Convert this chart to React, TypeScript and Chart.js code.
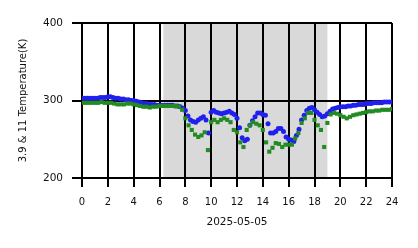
import React, { useEffect, useRef } from "react";
import { Chart, registerables } from "chart.js";

Chart.register(...registerables);

const xTickValues = [0, 2, 4, 6, 8, 10, 12, 14, 16, 18, 20, 22, 24];
const yTickValues = [200, 300, 400];
const xTitle = "2025-05-05";
const yTitle = "3.9 & 11 Temperature(K)";
const shadeStart = 6.3;
const shadeEnd = 19.0;

// 3.9 um brightness temperature, one value every 0.2 h from 0 to 24
const blueStep = 0.2;
const blueValues = [
  303, 303, 303, 303, 303, 303, 303, 304, 304, 304,
  305, 305, 304, 303, 303, 302, 302, 301, 301, 300,
  300, 299, 298, 297, 296, 296, 295, 295, 295, 294,
  294, 294, 294, 294, 294, 294, 293, 293, 292, 290,
  287, 280, 275, 273, 272, 275, 277, 279, 275, 258,
  285, 287, 285, 284, 283, 284, 285, 286, 284, 282,
  277, 265, 252, 248, 250, 268, 274, 279, 284, 284,
  282, 281, 270, 258, 258, 260, 264, 264, 260, 253,
  250, 249, 247, 255, 263, 275, 281, 287, 290, 291,
  288, 285, 282, 279, 280, 283, 286, 289, 290, 291,
  292, 292, 292, 293, 293, 294, 294, 295, 295, 295,
  296, 296, 296, 297, 297, 297, 297, 298, 298, 298,
  298,
];

// 11 um brightness temperature, one value every 0.25 h from 0 to 24
const greenStep = 0.25;
const greenValues = [
  297, 297, 297, 297, 297, 297, 298, 297, 297, 297,
  296, 295, 295, 295, 296, 296, 295, 294, 293, 292,
  292, 291, 292, 292, 293, 293, 293, 293, 293, 293,
  292, 288, 277, 268, 262, 256, 253, 255, 259, 236,
  272, 275, 272, 275, 277, 275, 272, 262, 259, 246,
  240, 262, 268, 272, 270, 268, 262, 246, 234, 239,
  245, 244, 240, 243, 243, 243, 251, 258, 271, 277,
  284, 284, 275, 268, 262, 240, 271, 282, 284, 283,
  281, 279, 277, 279, 281, 282, 283, 284, 285, 286,
  286, 287, 287, 288, 288, 288, 289,
];

const FONT = "'DejaVu Sans', sans-serif";

export default function App() {
  const canvasRef = useRef<HTMLCanvasElement | null>(null);

  useEffect(() => {
    document.body.style.margin = "0";
    const canvas = canvasRef.current;
    if (!canvas) return;

    const shadePlugin = {
      id: "shade",
      beforeDraw(chart: any) {
        const { ctx, chartArea, scales } = chart;
        const x0 = scales.x.getPixelForValue(shadeStart);
        const x1 = scales.x.getPixelForValue(shadeEnd);
        ctx.save();
        ctx.fillStyle = "rgb(217,217,217)";
        ctx.fillRect(x0, chartArea.top, x1 - x0, chartArea.bottom - chartArea.top);
        ctx.restore();
      },
    };

    const chart = new Chart(canvas, {
      type: "scatter",
      data: {
        datasets: [
          {
            label: "11",
            data: greenValues.map((v, i) => ({ x: i * greenStep, y: v })),
            backgroundColor: "#228B22",
            borderWidth: 0,
            pointStyle: "rect",
            pointRadius: 2.9,
            order: 0,
          },
          {
            label: "3.9",
            data: blueValues.map((v, i) => ({ x: i * blueStep, y: v })),
            backgroundColor: "#2020EE",
            borderWidth: 0,
            pointStyle: "circle",
            pointRadius: 2.5,
            order: 1,
          },
        ],
      },
      options: {
        responsive: false,
        animation: false,
        devicePixelRatio: 1,
        layout: { padding: { left: 0, top: 23, right: 26, bottom: 0 } },
        plugins: {
          legend: { display: false },
          tooltip: { enabled: false },
        },
        scales: {
          x: {
            type: "linear",
            min: 0,
            max: 24,
            afterBuildTicks: (s: any) => {
              s.ticks = xTickValues.map((v) => ({ value: v }));
            },
            afterFit: (s: any) => {
              s.height = 70;
            },
            grid: {
              color: "#000",
              lineWidth: 2,
              tickColor: "#000",
              tickLength: 9,
              drawTicks: true,
            },
            border: { display: false },
            ticks: {
              color: "#111",
              font: { family: FONT, size: 10 },
              padding: 9,
              maxRotation: 0,
              autoSkip: false,
            },
            title: {
              display: true,
              text: xTitle,
              color: "#111",
              font: { family: FONT, size: 10.5 },
              padding: { top: 0, bottom: 19 },
            },
          },
          y: {
            type: "linear",
            min: 200,
            max: 400,
            afterBuildTicks: (s: any) => {
              s.ticks = yTickValues.map((v) => ({ value: v }));
            },
            afterFit: (s: any) => {
              s.width = 82;
            },
            grid: {
              color: "#000",
              lineWidth: 2,
              tickColor: "#000",
              tickLength: 10,
              drawTicks: true,
            },
            border: { display: false },
            ticks: {
              color: "#111",
              font: { family: FONT, size: 10.5 },
              padding: 9,
              autoSkip: false,
            },
            title: {
              display: true,
              text: yTitle,
              color: "#111",
              font: { family: FONT, size: 10 },
              padding: { top: 17, bottom: 0 },
            },
          },
        },
      },
      plugins: [shadePlugin],
    });

    return () => {
      chart.destroy();
    };
  }, []);

  return (
    <div style={{ position: "absolute", left: 0, top: 0, width: 418, height: 248 }}>
      <canvas ref={canvasRef} width={418} height={248} style={{ width: 418, height: 248 }} />
    </div>
  );
}
